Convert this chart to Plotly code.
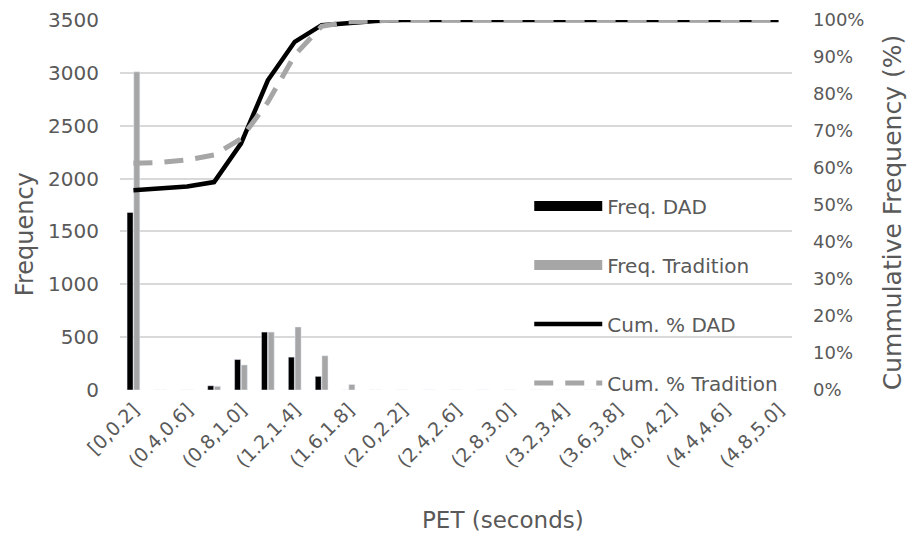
import plotly.graph_objects as go

categories = ["[0,0.2]", "(0.2,0.4]", "(0.4,0.6]", "(0.6,0.8]", "(0.8,1.0]",
              "(1.0,1.2]", "(1.2,1.4]", "(1.4,1.6]", "(1.6,1.8]", "(1.8,2.0]",
              "(2.0,2.2]", "(2.2,2.4]", "(2.4,2.6]", "(2.6,2.8]", "(2.8,3.0]",
              "(3.0,3.2]", "(3.2,3.4]", "(3.4,3.6]", "(3.6,3.8]", "(3.8,4.0]",
              "(4.0,4.2]", "(4.2,4.4]", "(4.4,4.6]", "(4.6,4.8]", "(4.8,5.0]"]
tick_labels = ["[0,0.2]", "(0.4,0.6]", "(0.8,1.0]", "(1.2,1.4]", "(1.6,1.8]",
               "(2.0,2.2]", "(2.4,2.6]", "(2.8,3.0]", "(3.2,3.4]", "(3.6,3.8]",
               "(4.0,4.2]", "(4.4,4.6]", "(4.8,5.0]"]

freq_dad = [1680, 0, 0, 40, 288, 548, 311, 129, 0, 0, 0, 0, 0, 0, 0, 0, 0, 0, 0, 0, 0, 0, 0, 0, 0]
freq_trad = [3010, 0, 0, 35, 237, 548, 596, 324, 52, 0, 0, 0, 0, 0, 0, 0, 0, 0, 0, 0, 0, 0, 0, 0, 0]
cum_dad = [0.540, 0.545, 0.550, 0.562, 0.666, 0.837, 0.941, 0.986, 0.992, 0.997, 1.0, 1.0, 1.0,
           1.0, 1.0, 1.0, 1.0, 1.0, 1.0, 1.0, 1.0, 1.0, 1.0, 1.0, 1.0]
cum_trad = [0.613, 0.615, 0.622, 0.635, 0.679, 0.778, 0.905, 0.983, 0.995, 0.999, 1.0, 1.0, 1.0,
            1.0, 1.0, 1.0, 1.0, 1.0, 1.0, 1.0, 1.0, 1.0, 1.0, 1.0, 1.0]

FONT = "DejaVu Sans"
TXT = "#595959"
GRAY = "#a6a6a6"

fig = go.Figure()
fig.add_trace(go.Bar(x=categories, y=freq_dad, name="Freq. DAD", marker_color="#000000",
                     showlegend=False))
fig.add_trace(go.Bar(x=categories, y=freq_trad, name="Freq. Tradition", marker_color=GRAY,
                     showlegend=False))
fig.add_trace(go.Scatter(x=categories, y=cum_dad, name="Cum. % DAD", mode="lines",
                         line=dict(color="#000000", width=4.5), yaxis="y2",
                         legendgroup="c", legendrank=3))
fig.add_trace(go.Scatter(x=categories, y=cum_trad, name="Cum. % Tradition", mode="lines",
                         line=dict(color=GRAY, width=5, dash="19px,12px"), yaxis="y2",
                         legendgroup="d", legendrank=4))
# legend entries for the bar series (wide block symbols as in the reference)
fig.add_trace(go.Scatter(x=[None], y=[None], name="Freq. DAD", mode="lines",
                         line=dict(color="#000000", width=10), legendgroup="a", legendrank=1))
fig.add_trace(go.Scatter(x=[None], y=[None], name="Freq. Tradition", mode="lines",
                         line=dict(color=GRAY, width=10), legendgroup="b", legendrank=2))

fig.update_layout(
    width=908, height=540,
    margin=dict(l=120, r=116, t=20, b=150, autoexpand=False),
    paper_bgcolor="white", plot_bgcolor="white",
    font=dict(family=FONT, size=20, color=TXT),
    barmode="group", bargap=0.5, bargroupgap=0.1,
    showlegend=True,
    legend=dict(x=0.609, y=0.55, xanchor="left", yanchor="top",
                font=dict(family=FONT, size=20, color=TXT),
                traceorder="grouped", tracegroupgap=30,
                bgcolor="rgba(0,0,0,0)", itemwidth=68),
    xaxis=dict(type="category", categoryorder="array", categoryarray=categories,
               tickmode="array", tickvals=tick_labels, ticktext=tick_labels,
               tickangle=-45, showgrid=False, showline=False, zeroline=False,
               ticks="", automargin=False, ticklabelstandoff=4,
               tickfont=dict(family=FONT, size=19, color=TXT)),
    yaxis=dict(range=[0, 3500], dtick=500, showgrid=True, gridcolor="#d9d9d9",
               gridwidth=1.5, zeroline=False, showline=False, ticks="", automargin=False,
               ticklabelstandoff=20, tickfont=dict(family=FONT, size=20, color=TXT)),
    yaxis2=dict(range=[0, 1], dtick=0.1, tickformat=".0%", overlaying="y", side="right",
                showgrid=False, zeroline=False, showline=False, ticks="", automargin=False,
                ticklabelstandoff=20, tickfont=dict(family=FONT, size=18, color=TXT)),
    annotations=[
        dict(text="PET (seconds)", xref="paper", yref="paper", x=0.57, y=-0.35,
             showarrow=False, xanchor="center", yanchor="middle",
             font=dict(family=FONT, size=23, color=TXT)),
        dict(text="Frequency", xref="paper", yref="paper", x=-0.142, y=0.42,
             showarrow=False, textangle=-90, xanchor="center", yanchor="middle",
             font=dict(family=FONT, size=24, color=TXT)),
        dict(text="Cummulative Frequency (%)", xref="paper", yref="paper", x=1.15, y=0.48,
             showarrow=False, textangle=-90, xanchor="center", yanchor="middle",
             font=dict(family=FONT, size=25, color=TXT)),
    ],
)

fig.write_html("out.html")
